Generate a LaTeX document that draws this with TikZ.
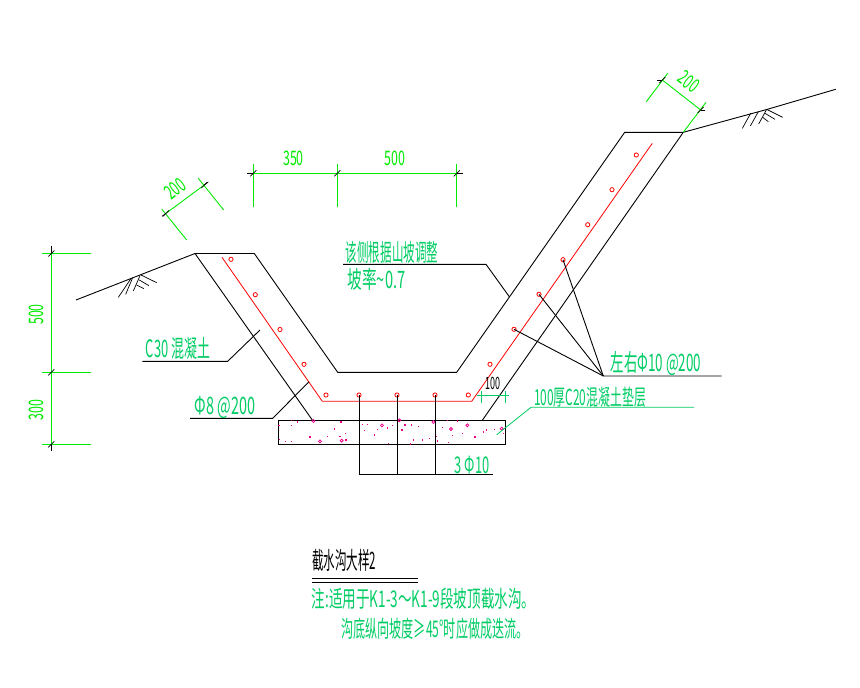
\documentclass[tikz,border=0pt]{standalone}
\usepackage{fontspec}
\setmainfont{Noto Sans CJK SC}
\definecolor{notegreen}{RGB}{0,205,100}
\definecolor{dimgreen}{RGB}{0,235,0}
\tikzset{
  ln/.style={black,line width=0.9pt},
  rb/.style={red,line width=0.8pt},
  dm/.style={dimgreen,line width=0.9pt},
  tk/.style={black,line width=0.7pt},
  ld/.style={black,line width=0.9pt},
  gl/.style={notegreen,line width=0.8pt},
  bar/.style={red,line width=0.8pt},
  cad/.style={inner sep=0pt,outer sep=0pt,transform shape,font=\fontsize{#1}{#1}\selectfont}
}
\begin{document}
\begin{tikzpicture}[x=1pt,y=-1pt]
\useasboundingbox (0,0) rectangle (860,688);
\fill[white] (0,0) rectangle (860,688);
% ground and channel
\draw[ln] (76,300) -- (195,253.5) -- (254.3,253.5) -- (337.7,372.3) -- (456.7,372.3) -- (624.7,132.3) -- (683.3,132.3) -- (766.7,109.5) -- (835.7,89.3);
\draw[ln] (195,253.5) -- (313,421);
\draw[ln] (683.3,132.3) -- (482.3,420.3);
\draw[ln] (278.3,420.3) rectangle (505.3,444.3);
% hatching
\foreach \a/\b/\c/\d in {332/357/295/412,338/353/317/403,360/347/340/393,363/345/410/368,358/360/387/377,350/375/372/386}
  \draw[tk] ({20+\a/3},{160+\b/3}) -- ({20+\c/3},{160+\d/3});
\foreach \a/\b/\c/\d in {812/160/787/205,835/155/811/198,860/148/836/192,860/148/908/172,855/160/885/178,848/172/865/185}
  \draw[tk] ({480+\a/3},{60+\b/3}) -- ({480+\c/3},{60+\d/3});
% reinforcement
\draw[rb] (222,257.3) -- (322.3,401.3) -- (471.7,401.3) -- (652.3,143.3);
\foreach \x/\y in {231/259.3,255.3/294.7,280/329.5,304/364.3,326/395,359/395,397/395,435/395,468.3/395,490/364.3,514/329.3,539/294.3,563/259.7,587.7/224.7,612/189.7,636.3/155}
  \draw[bar] (\x,\y) circle (2.1pt);
% concrete speckle
\foreach \a/\b in {130/243,150/304,215/302,336/256,490/246,543/267,592/256,695/266,388/241}
  \draw[magenta,line width=0.8pt] ({270+\a/3},{340+\b/3}) circle (1.5pt);
\foreach \a/\b in {65/241,82/246,65/256,27/256,28/298,47/304,65/304,120/291,172/289,194/267,213/246,226/281,210/290,228/300,277/254,292/254,283/272,313/285,322/268,352/264,367/256,355/310,405/255,396/270,422/312,430/300,458/300,445/259,425/255,478/295,500/290,502/303,535/307,548/286,518/262,532/241,562/243,577/280,615/291,640/276,650/270,673/268,700/280}
  \fill[magenta] ({270+\a/3-.6},{340+\b/3-.6}) rectangle +(1.2,1.2);
% leaders
\draw[ld] (359,395) -- (359,474.5) -- (492.7,474.5);
\draw[ld] (397,395) -- (397,474.5);
\draw[ld] (435,395) -- (435,474.5);
\draw[ld] (721.7,376) -- (603.3,376) -- (563,259.7);
\draw[ld] (603.3,376) -- (539,294.3);
\draw[ld] (603.3,376) -- (514,329.3);
\draw[ld] (142.3,361.3) -- (227.7,361.3) -- (260,330);
\draw[ld] (190,418.3) -- (272.7,418.3) -- (309,381.7);
\draw[ld] (343,264.3) -- (486,264.3) -- (509.3,296.7);
\draw[gl] (496.7,434.7) -- (531,407.3) -- (694,407.3);
% dimensions
\draw[dm] (51.3,253.5) -- (51.3,444.3);
\foreach \y in {253.5,372.3,444.3} \draw[dm] (42,\y) -- (91,\y);
\draw[dm] (253.3,173.3) -- (456.7,173.3);
\foreach \x in {253.3,337.3,456.7} \draw[dm] (\x,164) -- (\x,206.7);
\draw[dm] (166,213.3) -- (204.3,185);
\draw[dm] (161.7,209) -- (186.7,240);
\draw[dm] (198.3,178.3) -- (223.7,210);
\draw[dm] (662.3,80) -- (700.7,110);
\draw[dm] (667.7,73.3) -- (646.3,101.7);
\draw[dm] (706,102.3) -- (683.3,132.3);
\draw[gl] (476.7,395) -- (509.3,395);
\draw[gl] (481,391) -- (481,403);
\draw[gl] (505.7,391) -- (505.7,403);
% dimension ticks
\foreach \x/\y in {51.3/253.5,51.3/372.3,51.3/444.3,253.3/173.3,337.3/173.3,456.7/173.3,166/213.3,204.3/185,662.3/80,700.7/110}
  \draw[tk] (\x-3,\y+3) -- (\x+3,\y-3);
\draw[tk] (51.3,246) -- (51.3,253.5);
\draw[tk] (51.3,444.3) -- (51.3,451);
\draw[tk] (247,173.3) -- (253.3,173.3);
\draw[tk] (456.7,173.3) -- (463,173.3);
\draw[tk] (166,213.3) -- (162,216.3);
\draw[tk] (204.3,185) -- (208.3,182);
\draw[tk] (662.3,80) -- (657,80);
\draw[tk] (700.7,110) -- (705,110);
% dimension text
\node[cad=20,text=dimgreen,xscale=.62] (d350) at (293.5,158) {350};
\node[cad=20,text=dimgreen,xscale=.62] (d500) at (395,158) {500};
\node[cad=20,text=dimgreen,rotate=38,xscale=.62] (d200l) at (175,189) {200};
\node[cad=20,text=dimgreen,rotate=-38,xscale=.62] (d200r) at (689,81.5) {200};
\node[cad=20,text=dimgreen,rotate=90,xscale=.62] (d500v) at (36,314.5) {500};
\node[cad=20,text=dimgreen,rotate=90,xscale=.62] (d300v) at (36,410) {300};
\node[cad=17,text=black,xscale=.53] (d100) at (492.7,383) {100};
% labels
\node[cad=24,text=notegreen,xscale=.54] (c30) at (178,348) {C30 混凝土};
\node[cad=24,text=notegreen,xscale=.6] (phi8) at (225,407) {Φ8 @200};
\node[cad=24,text=notegreen,xscale=.48] (side) at (392,252.5) {该侧根据山坡调整};
\node[cad=24,text=notegreen,xscale=.61] (rate) at (376.5,279) {坡率\textasciitilde 0.7};
\node[cad=24,text=notegreen,xscale=.56] (lr) at (656,363.5) {左右Φ10 @200};
\node[cad=22,text=notegreen,xscale=.54] (cushion) at (590,397) {100厚C20混凝土垫层};
\node[cad=23,text=notegreen,xscale=.56] (bars) at (472,465.5) {3 Φ10};
\node[cad=24,text=black,xscale=.48] (title) at (344,560.5) {截水沟大样2};
\draw[ln] (312,578.3) -- (418,578.3);
\draw[ln] (312,582.3) -- (418,582.3);
\node[cad=23,text=notegreen,xscale=.59] (n1) at (423.5,599) {注:适用于K1-3～K1-9段坡顶截水沟。};
\node[cad=23,text=notegreen,xscale=.526] (n2) at (435,629) {沟底纵向坡度≥45°时应做成迭流。};
\end{tikzpicture}
\end{document}
